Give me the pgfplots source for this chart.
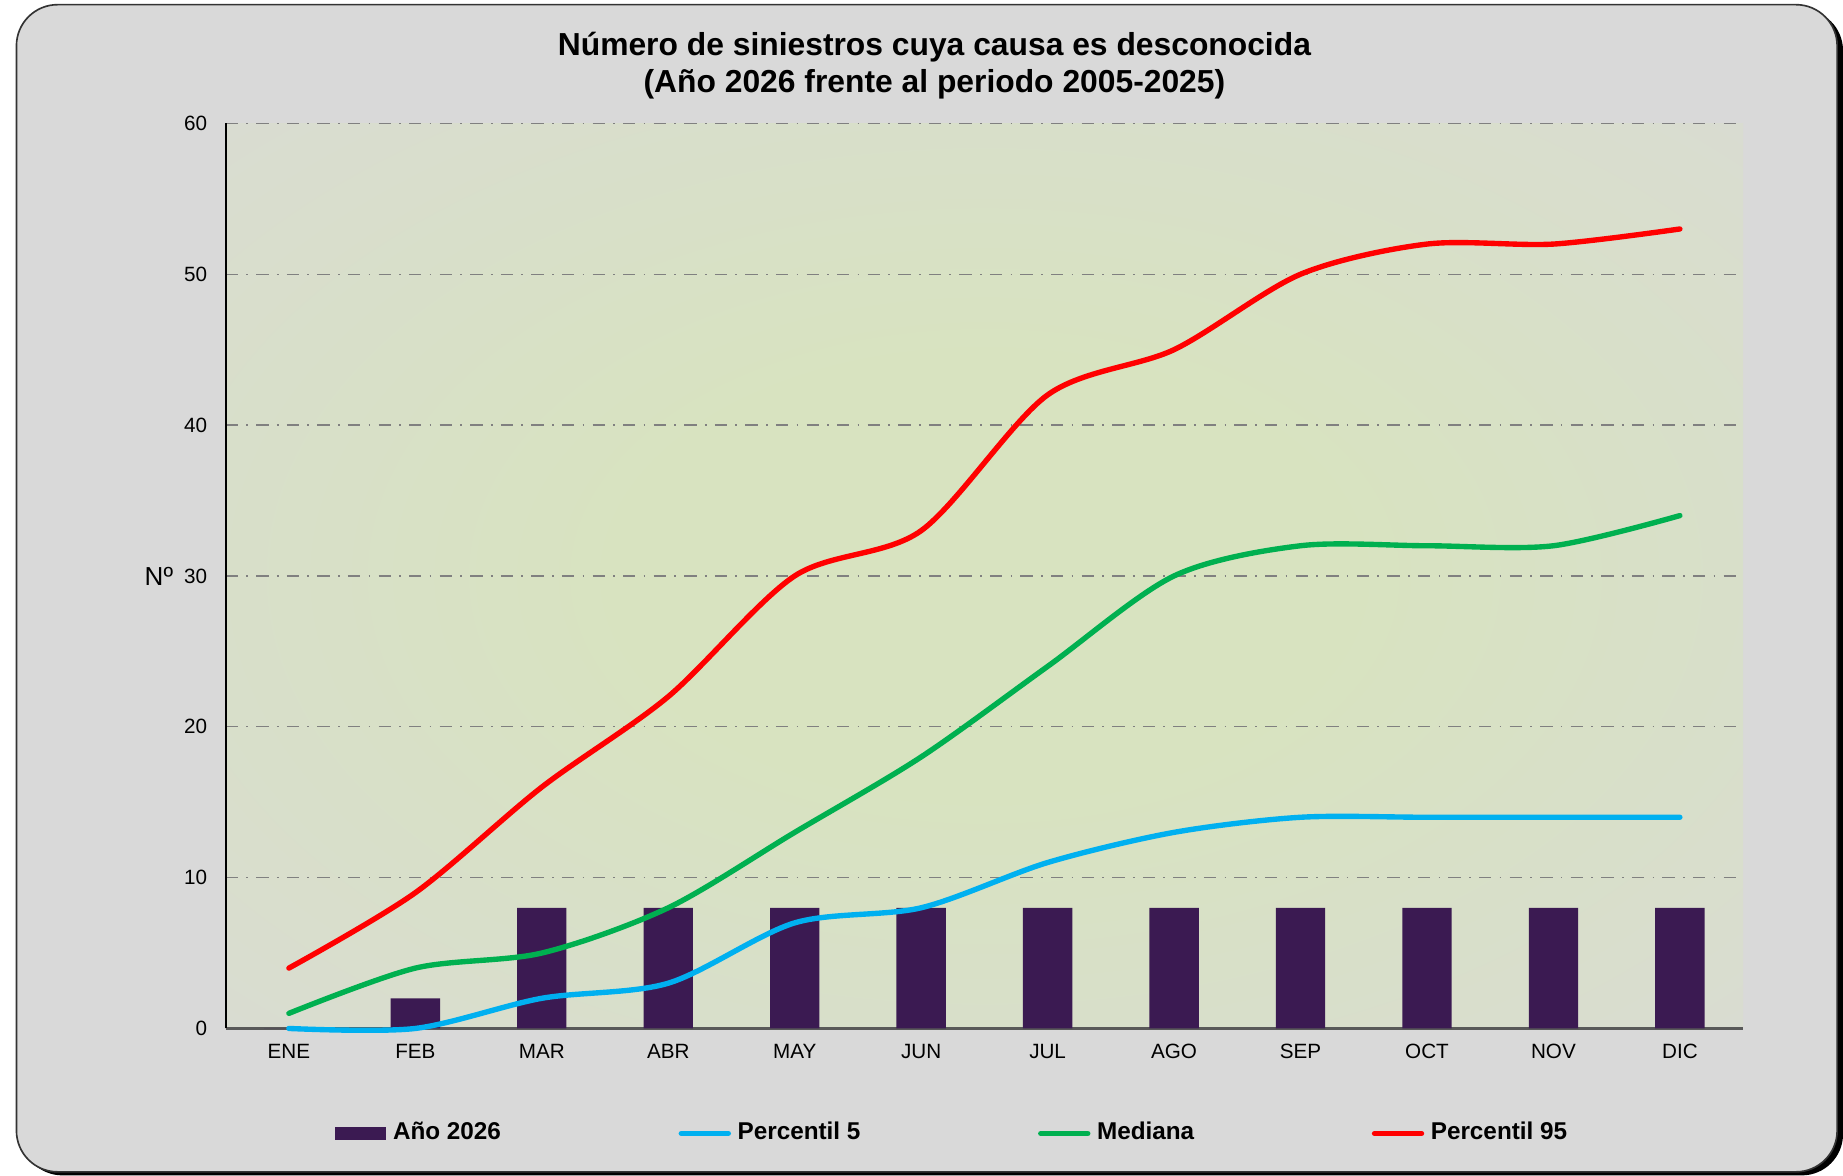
\documentclass[border=0pt]{standalone}
\usepackage{pgfplots}
\pgfplotsset{compat=1.18}
\usepackage{fontspec}
\setmainfont{Liberation Sans}
\definecolor{bgc}{HTML}{D9D9D9}
\definecolor{barc}{HTML}{3B1A52}
\definecolor{p5c}{HTML}{00B0F0}
\definecolor{medc}{HTML}{00B050}
\definecolor{p95c}{HTML}{FF0000}
\definecolor{gin}{HTML}{D8E3C0}
\definecolor{gout}{HTML}{D9DAD6}
\pgfdeclareradialshading{plotbg}{\pgfpoint{0bp}{0bp}}{color(0bp)=(gin); color(12bp)=(gin); color(42bp)=(gout); color(100bp)=(gout)}
\begin{document}
\begin{tikzpicture}
\useasboundingbox (0,0) rectangle (15.68,10);
\fill[black, rounded corners=0.35cm] (0.18,0.0) rectangle (15.68,9.92);
\fill[bgc, draw=black!80, line width=0.4pt, rounded corners=0.35cm] (0.14,0.03) rectangle (15.63,9.96);
\node[align=center, font=\bfseries\fontsize{7.7}{8.9}\selectfont] at (7.95,9.44) {Número de siniestros cuya causa es desconocida\\(Año 2026 frente al periodo 2005-2025)};
\begin{axis}[
  at={(1.92cm,1.25cm)}, anchor=south west,
  width=12.91cm, height=7.7cm, scale only axis,
  xmin=-0.5, xmax=11.5, ymin=0, ymax=60,
  ytick={0,10,...,60},
  xtick={0,...,11},
  xticklabels={ENE,FEB,MAR,ABR,MAY,JUN,JUL,AGO,SEP,OCT,NOV,DIC},
  /pgf/number format/assume math mode=true,
  axis x line*=bottom, axis y line*=left,
  x axis line style={draw=black!65, line width=0.6pt},
  y axis line style={draw=black, line width=0.5pt},
  major tick length=0pt,
  ymajorgrids, grid style={black!50, dash dot, line width=0.35pt},
  tick label style={font=\fontsize{5}{6}\selectfont},
  yticklabel style={inner sep=0pt, xshift=-0.15cm},
  xticklabel style={inner sep=0pt, yshift=-0.13cm},
  ylabel={Nº},
  every axis y label/.style={at={(rel axis cs:-0.044,0.5)}, anchor=center, font=\fontsize{6.3}{7}\selectfont},
  clip=false,
  axis background/.style={shading=plotbg},
  legend columns=4,
  legend style={at={(rel axis cs:0.0713,-0.116)}, anchor=west, draw=none, fill=none,
    inner sep=0pt, font=\bfseries\fontsize{5.88}{7}\selectfont,
    nodes={inner sep=0.6pt},
    /tikz/every even column/.append style={column sep=1.49cm},
    /tikz/every odd column/.append style={column sep=0.035cm}},
]
\addplot[ybar, bar width=0.42cm, fill=barc, draw=none,
  legend image code/.code={\fill[barc] (0cm,-0.055cm) rectangle (0.44cm,0.055cm);}]
  coordinates {(0,0) (1,2) (2,8) (3,8) (4,8) (5,8) (6,8) (7,8) (8,8) (9,8) (10,8) (11,8)};
\addlegendentry{Año 2026}
\addplot[p5c, line width=1.3pt, smooth, line cap=round,
  legend image code/.code={\draw[p5c, line width=1.3pt, line cap=round] (0.02cm,0cm) -- (0.42cm,0cm);}]
  coordinates {(0,0) (1,0) (2,2) (3,3) (4,7) (5,8) (6,11) (7,13) (8,14) (9,14) (10,14) (11,14)};
\addlegendentry{Percentil 5}
\addplot[medc, line width=1.3pt, smooth, line cap=round,
  legend image code/.code={\draw[medc, line width=1.3pt, line cap=round] (0.02cm,0cm) -- (0.42cm,0cm);}]
  coordinates {(0,1) (1,4) (2,5) (3,8) (4,13) (5,18) (6,24) (7,30) (8,32) (9,32) (10,32) (11,34)};
\addlegendentry{Mediana}
\addplot[p95c, line width=1.3pt, smooth, line cap=round,
  legend image code/.code={\draw[p95c, line width=1.3pt, line cap=round] (0.02cm,0cm) -- (0.42cm,0cm);}]
  coordinates {(0,4) (1,9) (2,16) (3,22) (4,30) (5,33) (6,42) (7,45) (8,50) (9,52) (10,52) (11,53)};
\addlegendentry{Percentil 95}
\end{axis}
\end{tikzpicture}
\end{document}
